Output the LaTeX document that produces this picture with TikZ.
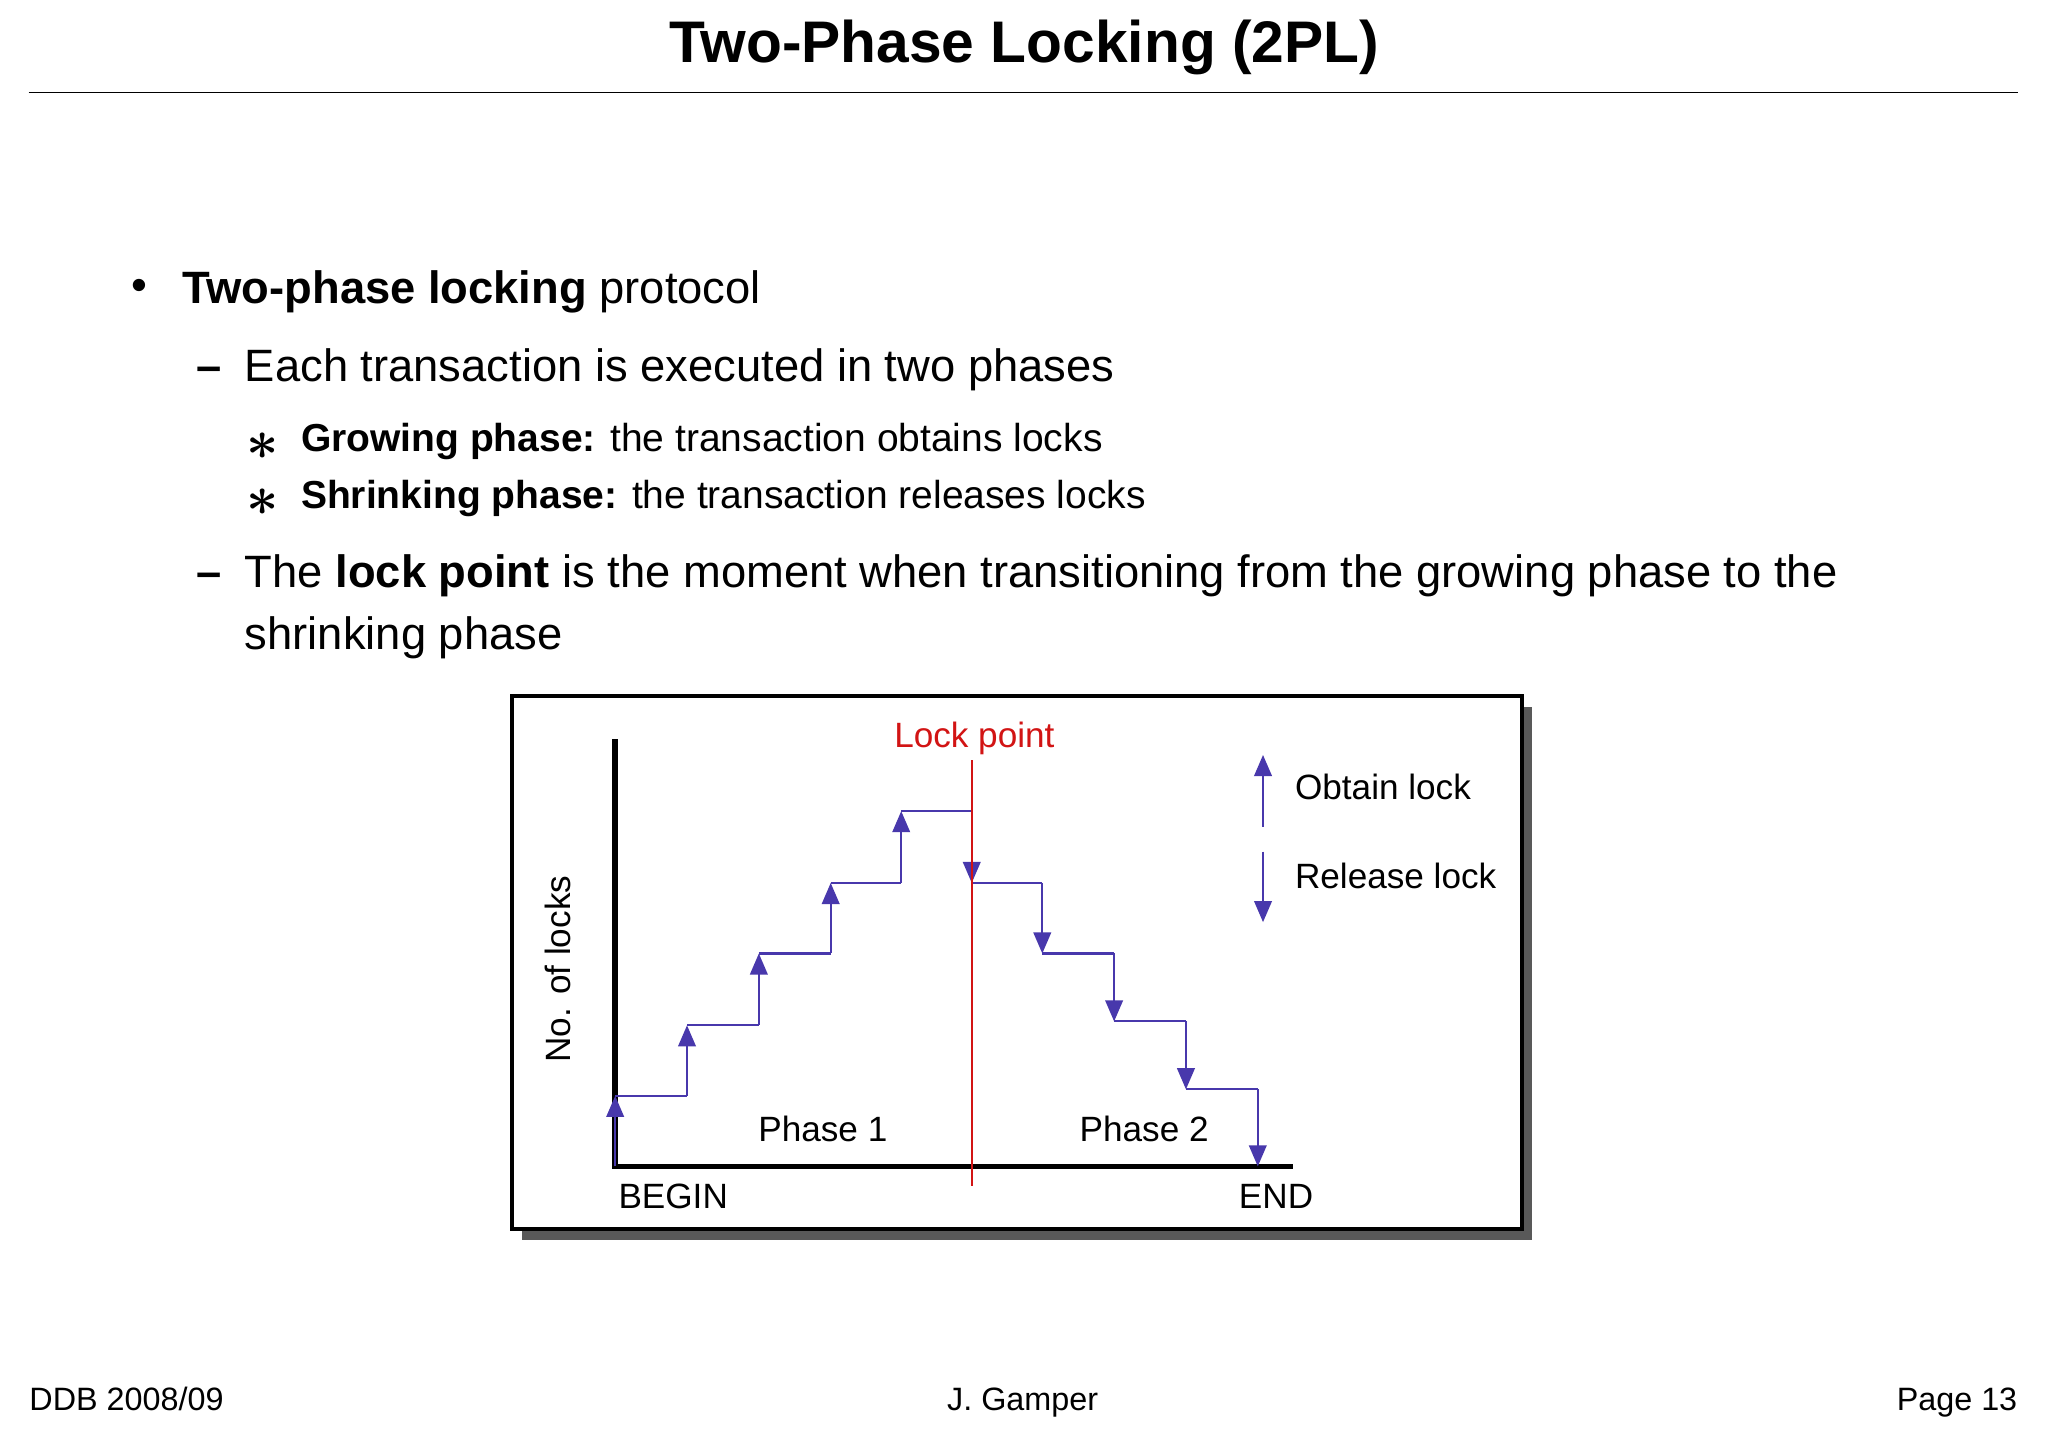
\documentclass[tikz,border=0pt]{standalone}
\usepackage{fontspec}
\setmainfont{Liberation Sans}
\usetikzlibrary{arrows.meta}
\definecolor{lockblue}{RGB}{72,56,172}
\definecolor{lockred}{RGB}{210,20,20}
\tikzset{
  txt/.style={anchor=base west, inner sep=0pt},
  steparrow/.style={lockblue, semithick, -{Triangle[width=5pt,length=6pt]}},
  stepline/.style={lockblue, semithick},
  axis/.style={black, line width=1.6pt}
}
\newcommand{\bodyfont}{\fontsize{12.9}{15}\selectfont}
\newcommand{\subfont}{\fontsize{11.1}{13}\selectfont}
\newcommand{\figfont}{\fontsize{10}{12}\selectfont}
\newcommand{\footfont}{\fontsize{9.2}{11}\selectfont}
\newcommand{\bigast}{\scalebox{1.6}{$\boldsymbol{\ast}$}}
\usepackage{amsmath}
\begin{document}
\begin{tikzpicture}[x=0.01306cm,y=-0.01306cm]
    \useasboundingbox (0,0) rectangle (1568,1109);

    % Title
    \node (title) at (784,36) {\fontsize{16.7}{19}\selectfont\bfseries Two-Phase Locking (2PL)};
    \draw [thin] (22,71) -- (1545,71);

    % Bullets
    \node[txt] (b1) at (100,230) {\bodyfont\textbullet};
    \node[txt] (t1) at (139,232) {\bodyfont\textbf{Two-phase locking} protocol};
    \node[txt] (b2) at (150,292) {\bodyfont\textbf{--}};
    \node[txt] (t2) at (187,292) {\bodyfont Each transaction is executed in two phases};
    \node[txt] (b3) at (188,352) {\bigast};
    \node[txt] (t3) at (230,346) {\subfont\textbf{Growing phase:} the transaction obtains locks};
    \node[txt] (b4) at (188,395) {\bigast};
    \node[txt] (t4) at (230,389) {\subfont\textbf{Shrinking phase:} the transaction releases locks};
    \node[txt] (b5) at (150,450) {\bodyfont\textbf{--}};
    \node[txt] (t5) at (187,450) {\bodyfont The \textbf{lock point} is the moment when transitioning from the growing phase to the};
    \node[txt] (t6) at (187,497) {\bodyfont shrinking phase};

    % Frame with shadow
    \fill [black!65] (400,541) rectangle (1173,949);
    \draw [fill=white, line width=1.2pt] (392,533) rectangle (1165,941);

    % Axes
    \draw [axis] (471,566) -- (471,893) -- (990,893);

    % Steps
    \foreach \xa/\xb/\ya/\yb in {471/526/893/839, 526/581/839/785, 581/636/785/730, 636/690/730/676, 690/744/676/621} {
        \draw [steparrow] (\xa,\ya) -- (\xa,\yb);
        \draw [stepline] (\xa,\yb) -- (\xb,\yb);
    }
    \foreach \xa/\xb/\ya/\yb in {744/798/621/676, 798/853/676/730, 853/908/730/782, 908/963/782/834} {
        \draw [steparrow] (\xa,\ya) -- (\xa,\yb);
        \draw [stepline] (\xa,\yb) -- (\xb,\yb);
    }
    \draw [steparrow] (963,834) -- (963,893);

    % Lock point
    \draw [lockred, semithick] (744,582) -- (744,908);
    \node (lp) at (746,565) {\figfont\color{lockred}Lock point};

    % Legend
    \draw [steparrow] (967,633) -- (967,578);
    \node[txt] (obt) at (991,612) {\figfont Obtain lock};
    \draw [steparrow] (967,652) -- (967,706);
    \node[txt] (rel) at (991,680) {\figfont Release lock};

    % Labels
    \node [rotate=90] (ylab) at (427,742) {\figfont No. of locks};
    \node (ph1) at (630,864) {\figfont Phase 1};
    \node (ph2) at (876,864) {\figfont Phase 2};
    \node[txt] (beg) at (473,925) {\figfont BEGIN};
    \node[anchor=base] (end) at (977,925) {\figfont END};

    % Footer
    \node[txt] (f1) at (22,1080) {\footfont DDB 2008/09};
    \node[anchor=base] (f2) at (783,1080) {\footfont J. Gamper};
    \node[anchor=base east, inner sep=0pt] (f3) at (1545,1080) {\footfont Page 13};
\end{tikzpicture}
\end{document}
